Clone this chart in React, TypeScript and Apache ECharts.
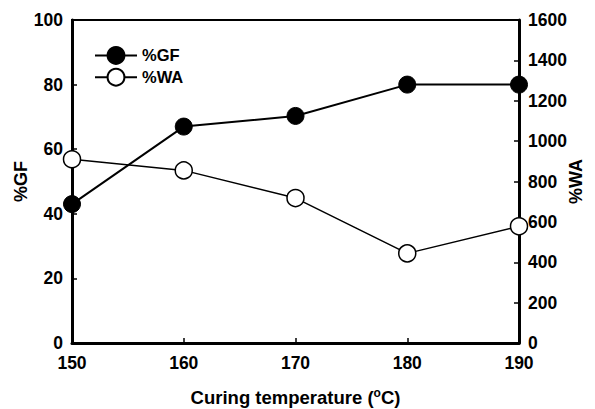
import React, { useEffect, useRef } from "react";
import * as echarts from "echarts";

const temperatures = [150, 160, 170, 180, 190];
const gfValues = [43, 67, 70.3, 80, 80];
const waValues = [910, 855, 718, 444, 578];
const xTicks = { min: 150, max: 190, interval: 10 };
const leftTicks = { min: 0, max: 100, interval: 20 };
const rightTicks = { min: 0, max: 1600, interval: 200 };

const FONT = "'Liberation Sans', Arial, sans-serif";

export default function App() {
  const ref = useRef<HTMLDivElement>(null);
  useEffect(() => {
    if (!ref.current) return;
    const chart = echarts.init(ref.current, undefined, { renderer: "svg" });
    const axisLine = { show: true, lineStyle: { color: "#000", width: 3 } };
    const axisTick = { show: true, inside: true, length: 5, lineStyle: { color: "#000", width: 1.5 } };
    const axisLabel = { color: "#000", fontSize: 17.5, fontWeight: "bold" as const, fontFamily: FONT };
    chart.setOption({
      animation: false,
      backgroundColor: "#fff",
      grid: {
        left: 72,
        right: 76,
        top: 20,
        bottom: 66,
        outerBoundsMode: "none",
        containLabel: false,
        show: true,
        borderColor: "#000",
        borderWidth: 2,
        backgroundColor: "transparent",
      },
      legend: {
        orient: "vertical",
        left: 89,
        top: 41,
        itemWidth: 42,
        itemHeight: 21,
        itemGap: 3,
        textStyle: { color: "#000", fontSize: 16.5, fontWeight: "bold", fontFamily: FONT, padding: [0, 0, 0, 0] },
        data: ["%GF", "%WA"],
      },
      xAxis: {
        type: "value",
        min: xTicks.min,
        max: xTicks.max,
        interval: xTicks.interval,
        axisLine,
        axisTick,
        splitLine: { show: false },
        axisLabel: { ...axisLabel, margin: 11 },
        name: "Curing temperature ({sup|o}C)",
        nameLocation: "middle",
        nameGap: 44,
        nameMoveOverlap: false,
        nameTextStyle: {
          color: "#000",
          fontSize: 18.5,
          fontWeight: "bold",
          fontFamily: FONT,
          rich: {
            sup: { fontSize: 12, fontWeight: "bold", fontFamily: FONT, color: "#000", verticalAlign: "top", padding: [0, 0, 9, 0] },
          },
        },
      },
      yAxis: [
        {
          type: "value",
          position: "left",
          min: leftTicks.min,
          max: leftTicks.max,
          interval: leftTicks.interval,
          axisLine,
          axisTick,
          splitLine: { show: false },
          axisLabel: { ...axisLabel, margin: 9 },
          name: "%GF",
          nameLocation: "middle",
          nameRotate: 90,
          nameGap: 42,
          nameMoveOverlap: false,
          nameTextStyle: { color: "#000", fontSize: 18, fontWeight: "bold", fontFamily: FONT },
        },
        {
          type: "value",
          position: "right",
          min: rightTicks.min,
          max: rightTicks.max,
          interval: rightTicks.interval,
          axisLine,
          axisTick,
          splitLine: { show: false },
          axisLabel: { ...axisLabel, margin: 9, formatter: (v: number) => String(v) },
          name: "%WA",
          nameLocation: "middle",
          nameRotate: 90,
          nameGap: 48,
          nameMoveOverlap: false,
          nameTextStyle: { color: "#000", fontSize: 18, fontWeight: "bold", fontFamily: FONT },
        },
      ],
      series: [
        {
          name: "%GF",
          type: "line",
          yAxisIndex: 0,
          data: temperatures.map((t, i) => [t, gfValues[i]]),
          symbol: "circle",
          symbolSize: 17,
          lineStyle: { color: "#000", width: 2 },
          itemStyle: { color: "#000", borderColor: "#000", borderWidth: 1 },
          z: 3,
        },
        {
          name: "%WA",
          type: "line",
          yAxisIndex: 1,
          data: temperatures.map((t, i) => [t, waValues[i]]),
          symbol: "circle",
          symbolSize: 17,
          lineStyle: { color: "#000", width: 1.5 },
          itemStyle: { color: "#fff", borderColor: "#000", borderWidth: 1.5 },
          z: 4,
        },
      ],
    });
    return () => chart.dispose();
  }, []);
  return <div ref={ref} style={{ width: 595, height: 409, position: "absolute", left: 0, top: 0 }} />;
}
